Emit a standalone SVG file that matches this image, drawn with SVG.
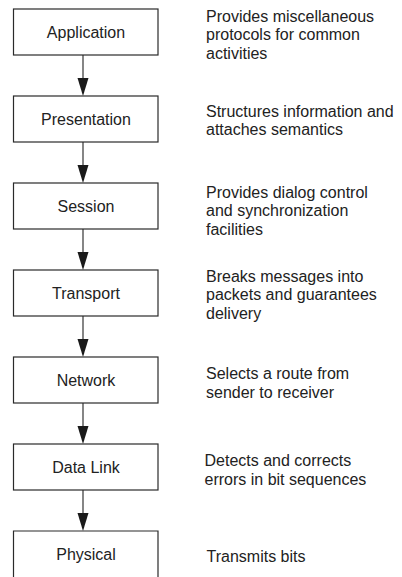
<svg xmlns="http://www.w3.org/2000/svg" width="402" height="577" viewBox="0 0 402 577">
<style>
.box{fill:#fff;stroke:#2a2a2a;stroke-width:1.2}
.lbl{font-family:"Liberation Sans",Arial,sans-serif;font-size:16px;fill:#222;text-anchor:middle}
.desc{font-family:"Liberation Sans",Arial,sans-serif;font-size:16px;fill:#222}
.conn{stroke:#444;stroke-width:1.3;fill:none}
.head{fill:#1a1a1a}
</style>
<rect width="402" height="577" fill="#fff"/>
<g id="connectors">
<line class="conn" x1="83" y1="55" x2="83" y2="80"/><path class="head" d="M77.5,78 L88.5,78 L83,96 Z"/>
<line class="conn" x1="83" y1="142" x2="83" y2="167"/><path class="head" d="M77.5,165 L88.5,165 L83,183 Z"/>
<line class="conn" x1="83" y1="229" x2="83" y2="254"/><path class="head" d="M77.5,252 L88.5,252 L83,270 Z"/>
<line class="conn" x1="83" y1="316" x2="83" y2="341"/><path class="head" d="M77.5,339 L88.5,339 L83,357 Z"/>
<line class="conn" x1="83" y1="403" x2="83" y2="428"/><path class="head" d="M77.5,426 L88.5,426 L83,444 Z"/>
<line class="conn" x1="83" y1="490" x2="83" y2="515"/><path class="head" d="M77.5,513 L88.5,513 L83,531 Z"/>
</g>
<g id="application">
<rect class="box" x="13.5" y="9" width="144.5" height="46"/>
<text class="lbl" x="86" y="37.5">Application</text>
<text class="desc" x="206" y="21.7">Provides miscellaneous</text>
<text class="desc" x="206" y="40.4">protocols for common</text>
<text class="desc" x="206" y="59.1">activities</text>
</g>
<g id="presentation">
<rect class="box" x="13.5" y="96" width="144.5" height="46"/>
<text class="lbl" x="86" y="124.5">Presentation</text>
<text class="desc" x="206" y="116.7">Structures information and</text>
<text class="desc" x="206" y="135.4">attaches semantics</text>
</g>
<g id="session">
<rect class="box" x="13.5" y="183" width="144.5" height="46"/>
<text class="lbl" x="86" y="211.5">Session</text>
<text class="desc" x="206" y="197.7">Provides dialog control</text>
<text class="desc" x="206" y="216.4">and synchronization</text>
<text class="desc" x="206" y="235.1">facilities</text>
</g>
<g id="transport">
<rect class="box" x="13.5" y="270" width="144.5" height="46"/>
<text class="lbl" x="86" y="298.5">Transport</text>
<text class="desc" x="206" y="281.7">Breaks messages into</text>
<text class="desc" x="206" y="300.4">packets and guarantees</text>
<text class="desc" x="206" y="319.1">delivery</text>
</g>
<g id="network">
<rect class="box" x="13.5" y="357" width="144.5" height="46"/>
<text class="lbl" x="86" y="385.5">Network</text>
<text class="desc" x="206" y="379.3">Selects a route from</text>
<text class="desc" x="206" y="398">sender to receiver</text>
</g>
<g id="datalink">
<rect class="box" x="13.5" y="444" width="144.5" height="46"/>
<text class="lbl" x="86" y="472.5">Data Link</text>
<text class="desc" x="204.5" y="466">Detects and corrects</text>
<text class="desc" x="204.5" y="484.7">errors in bit sequences</text>
</g>
<g id="physical">
<path class="box" d="M13.5,580 L13.5,531 L158,531 L158,580"/>
<text class="lbl" x="86" y="560">Physical</text>
<text class="desc" x="206.5" y="561.7">Transmits bits</text>
</g>
</svg>
